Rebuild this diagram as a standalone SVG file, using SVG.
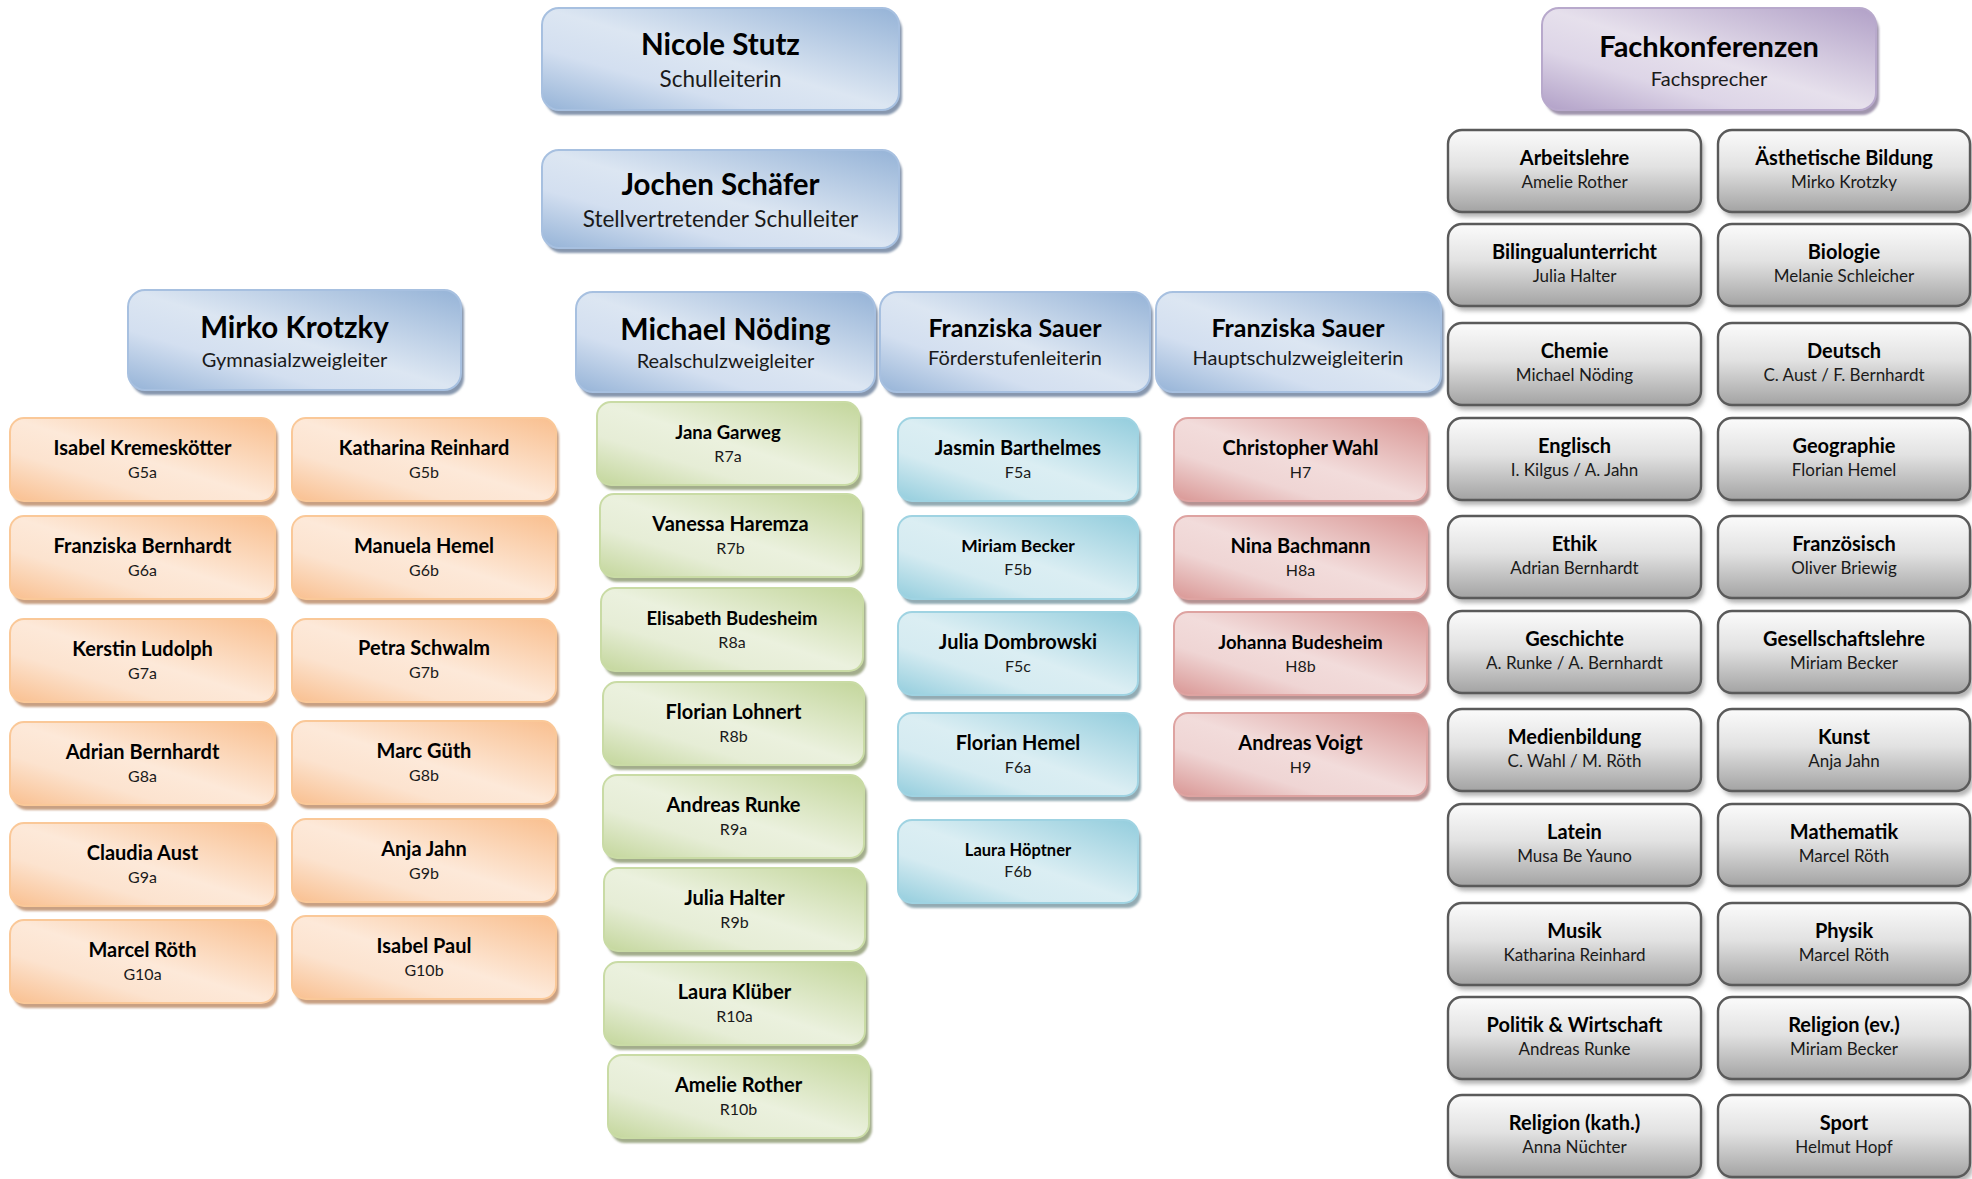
<svg xmlns="http://www.w3.org/2000/svg" width="1972" height="1179" viewBox="0 0 1972 1179">
<defs>
<linearGradient id="gBlue" x1="1" y1="0" x2="0" y2="1"><stop offset="0" stop-color="#95b3d7"/><stop offset="0.5" stop-color="#dce6f2"/><stop offset="0.7" stop-color="#d3dff0"/><stop offset="1" stop-color="#95b3d7"/></linearGradient>
<linearGradient id="gPurple" x1="1" y1="0" x2="0" y2="1"><stop offset="0" stop-color="#b1a0c7"/><stop offset="0.5" stop-color="#e6e0ec"/><stop offset="0.7" stop-color="#ddd5e7"/><stop offset="1" stop-color="#b1a0c7"/></linearGradient>
<linearGradient id="gOrange" x1="1" y1="0" x2="0" y2="1"><stop offset="0" stop-color="#f9bf8f"/><stop offset="0.5" stop-color="#fde9d9"/><stop offset="0.7" stop-color="#fce3cf"/><stop offset="1" stop-color="#f9bf8f"/></linearGradient>
<linearGradient id="gGreen" x1="1" y1="0" x2="0" y2="1"><stop offset="0" stop-color="#c3d69b"/><stop offset="0.5" stop-color="#ebf1de"/><stop offset="0.7" stop-color="#e6edd6"/><stop offset="1" stop-color="#c3d69b"/></linearGradient>
<linearGradient id="gCyan" x1="1" y1="0" x2="0" y2="1"><stop offset="0" stop-color="#93cddd"/><stop offset="0.5" stop-color="#dbeef3"/><stop offset="0.7" stop-color="#d5ebf1"/><stop offset="1" stop-color="#93cddd"/></linearGradient>
<linearGradient id="gRed" x1="1" y1="0" x2="0" y2="1"><stop offset="0" stop-color="#d99694"/><stop offset="0.5" stop-color="#f2dcdb"/><stop offset="0.7" stop-color="#efd5d4"/><stop offset="1" stop-color="#d99694"/></linearGradient>
<linearGradient id="gGray" x1="0" y1="0" x2="0" y2="1"><stop offset="0" stop-color="#fbfbfb"/><stop offset="0.45" stop-color="#e2e2e2"/><stop offset="1" stop-color="#a3a3a3"/></linearGradient>
<filter id="blur" x="-5%" y="-10%" width="110%" height="130%"><feGaussianBlur stdDeviation="1.3"/></filter>
<filter id="blur2" x="-5%" y="-10%" width="110%" height="130%"><feGaussianBlur stdDeviation="2.2"/></filter>
</defs>
<style>
text{font-family:Lato,"Open Sans","Liberation Sans",sans-serif;text-anchor:middle;fill:#000}
.t{font-weight:700;font-size:20px}
.s{font-weight:400;font-size:16px;fill:#1a1a1a}
.h{font-weight:700;font-size:29.5px}
.hs{font-weight:400;font-size:20px;fill:#1a1a1a}
.sh{filter:url(#blur)}
.bx{stroke-width:2}
.blue .bx{fill:url(#gBlue);stroke:#a7c0e0}
.blue .sh{fill:#8797ae}
.purple .bx{fill:url(#gPurple);stroke:#b8a9cc}
.purple .sh{fill:#a095ad}
.orange .bx{fill:url(#gOrange);stroke:#fac898}
.orange .sh{fill:#c8a083}
.green .bx{fill:url(#gGreen);stroke:#c9dba5}
.green .sh{fill:#a3ad8c}
.cyan .bx{fill:url(#gCyan);stroke:#9fd3e2}
.cyan .sh{fill:#93abb3}
.red .bx{fill:url(#gRed);stroke:#dea3a1}
.red .sh{fill:#b59292}
.gray .bx{fill:url(#gGray);stroke:#5a5a5a;stroke-width:2.4}
.gray .sh{fill:#b5b5b5;filter:url(#blur2)}
.gray .s{font-size:17px}
</style>
<rect width="1972" height="1179" fill="#fff"/>
<g id="connectors"/>

<!-- top leadership -->
<g id="n-stutz" class="blue"><rect class="sh" x="545" y="13" width="357" height="102" rx="17"/><rect class="bx" x="542" y="8" width="357" height="102" rx="17"/><text class="h" x="720.5" y="55">Nicole Stutz</text><text class="hs" x="720.5" y="87" style="font-size:22.5px">Schulleiterin</text></g>
<g id="n-schaefer" class="blue"><rect class="sh" x="545" y="155" width="357" height="98" rx="17"/><rect class="bx" x="542" y="150" width="357" height="98" rx="17"/><text class="h" x="720.5" y="195">Jochen Schäfer</text><text class="hs" x="720.5" y="227" style="font-size:22.5px">Stellvertretender Schulleiter</text></g>
<g id="n-fachkonf" class="purple"><rect class="sh" x="1545" y="13" width="334" height="102" rx="17"/><rect class="bx" x="1542" y="8" width="334" height="102" rx="17"/><text class="h" x="1709" y="57" style="font-size:29px">Fachkonferenzen</text><text class="hs" x="1709" y="86">Fachsprecher</text></g>

<!-- branch heads -->
<g id="n-krotzky" class="blue"><rect class="sh" x="131" y="295" width="333" height="100" rx="17"/><rect class="bx" x="128" y="290" width="333" height="100" rx="17"/><text class="h" x="294.5" y="338">Mirko Krotzky</text><text class="hs" x="294.5" y="367">Gymnasialzweigleiter</text></g>
<g id="n-noeding" class="blue"><rect class="sh" x="579" y="297" width="299" height="100" rx="17"/><rect class="bx" x="576" y="292" width="299" height="100" rx="17"/><text class="h" x="725.5" y="340" style="font-size:30px">Michael Nöding</text><text class="hs" x="725.5" y="368">Realschulzweigleiter</text></g>
<g id="n-sauer-f" class="blue"><rect class="sh" x="883" y="297" width="270" height="100" rx="17"/><rect class="bx" x="880" y="292" width="270" height="100" rx="17"/><text class="h" x="1015" y="337" style="font-size:25px">Franziska Sauer</text><text class="hs" x="1015" y="365">Förderstufenleiterin</text></g>
<g id="n-sauer-h" class="blue"><rect class="sh" x="1159" y="297" width="285" height="100" rx="17"/><rect class="bx" x="1156" y="292" width="285" height="100" rx="17"/><text class="h" x="1298" y="337" style="font-size:25px">Franziska Sauer</text><text class="hs" x="1298" y="365">Hauptschulzweigleiterin</text></g>

<!-- Gymnasium (orange) -->
<g id="n-g5a" class="orange"><rect class="sh" x="13" y="423" width="265" height="83" rx="14"/><rect class="bx" x="10" y="418" width="265" height="83" rx="14"/><text class="t" x="142.5" y="455">Isabel Kremeskötter</text><text class="s" x="142.5" y="478">G5a</text></g>
<g id="n-g5b" class="orange"><rect class="sh" x="295" y="423" width="264" height="83" rx="14"/><rect class="bx" x="292" y="418" width="264" height="83" rx="14"/><text class="t" x="424" y="455">Katharina Reinhard</text><text class="s" x="424" y="478">G5b</text></g>
<g id="n-g6a" class="orange"><rect class="sh" x="13" y="521" width="265" height="83" rx="14"/><rect class="bx" x="10" y="516" width="265" height="83" rx="14"/><text class="t" x="142.5" y="553">Franziska Bernhardt</text><text class="s" x="142.5" y="576">G6a</text></g>
<g id="n-g6b" class="orange"><rect class="sh" x="295" y="521" width="264" height="83" rx="14"/><rect class="bx" x="292" y="516" width="264" height="83" rx="14"/><text class="t" x="424" y="553">Manuela Hemel</text><text class="s" x="424" y="576">G6b</text></g>
<g id="n-g7a" class="orange"><rect class="sh" x="13" y="624" width="265" height="83" rx="14"/><rect class="bx" x="10" y="619" width="265" height="83" rx="14"/><text class="t" x="142.5" y="656">Kerstin Ludolph</text><text class="s" x="142.5" y="679">G7a</text></g>
<g id="n-g7b" class="orange"><rect class="sh" x="295" y="624" width="264" height="83" rx="14"/><rect class="bx" x="292" y="619" width="264" height="83" rx="14"/><text class="t" x="424" y="655">Petra Schwalm</text><text class="s" x="424" y="678">G7b</text></g>
<g id="n-g8a" class="orange"><rect class="sh" x="13" y="727" width="265" height="83" rx="14"/><rect class="bx" x="10" y="722" width="265" height="83" rx="14"/><text class="t" x="142.5" y="759">Adrian Bernhardt</text><text class="s" x="142.5" y="782">G8a</text></g>
<g id="n-g8b" class="orange"><rect class="sh" x="295" y="726" width="264" height="83" rx="14"/><rect class="bx" x="292" y="721" width="264" height="83" rx="14"/><text class="t" x="424" y="758">Marc Güth</text><text class="s" x="424" y="781">G8b</text></g>
<g id="n-g9a" class="orange"><rect class="sh" x="13" y="828" width="265" height="83" rx="14"/><rect class="bx" x="10" y="823" width="265" height="83" rx="14"/><text class="t" x="142.5" y="860">Claudia Aust</text><text class="s" x="142.5" y="883">G9a</text></g>
<g id="n-g9b" class="orange"><rect class="sh" x="295" y="824" width="264" height="83" rx="14"/><rect class="bx" x="292" y="819" width="264" height="83" rx="14"/><text class="t" x="424" y="856">Anja Jahn</text><text class="s" x="424" y="879">G9b</text></g>
<g id="n-g10a" class="orange"><rect class="sh" x="13" y="925" width="265" height="83" rx="14"/><rect class="bx" x="10" y="920" width="265" height="83" rx="14"/><text class="t" x="142.5" y="957">Marcel Röth</text><text class="s" x="142.5" y="980">G10a</text></g>
<g id="n-g10b" class="orange"><rect class="sh" x="295" y="921" width="264" height="83" rx="14"/><rect class="bx" x="292" y="916" width="264" height="83" rx="14"/><text class="t" x="424" y="953">Isabel Paul</text><text class="s" x="424" y="976">G10b</text></g>

<!-- Realschule (green) -->
<g id="n-r7a" class="green"><rect class="sh" x="600" y="407" width="262" height="83" rx="14"/><rect class="bx" x="597" y="402" width="262" height="83" rx="14"/><text class="t" x="728" y="439" style="font-size:18.5px">Jana Garweg</text><text class="s" x="728" y="462">R7a</text></g>
<g id="n-r7b" class="green"><rect class="sh" x="603" y="499" width="261" height="83" rx="14"/><rect class="bx" x="600" y="494" width="261" height="83" rx="14"/><text class="t" x="730.5" y="531">Vanessa Haremza</text><text class="s" x="730.5" y="554">R7b</text></g>
<g id="n-r8a" class="green"><rect class="sh" x="604" y="593" width="262" height="83" rx="14"/><rect class="bx" x="601" y="588" width="262" height="83" rx="14"/><text class="t" x="732" y="625" style="font-size:18.5px">Elisabeth Budesheim</text><text class="s" x="732" y="648">R8a</text></g>
<g id="n-r8b" class="green"><rect class="sh" x="606" y="687" width="261" height="83" rx="14"/><rect class="bx" x="603" y="682" width="261" height="83" rx="14"/><text class="t" x="733.5" y="719">Florian Lohnert</text><text class="s" x="733.5" y="742">R8b</text></g>
<g id="n-r9a" class="green"><rect class="sh" x="606" y="780" width="261" height="83" rx="14"/><rect class="bx" x="603" y="775" width="261" height="83" rx="14"/><text class="t" x="733.5" y="812">Andreas Runke</text><text class="s" x="733.5" y="835">R9a</text></g>
<g id="n-r9b" class="green"><rect class="sh" x="607" y="873" width="261" height="83" rx="14"/><rect class="bx" x="604" y="868" width="261" height="83" rx="14"/><text class="t" x="734.5" y="905">Julia Halter</text><text class="s" x="734.5" y="928">R9b</text></g>
<g id="n-r10a" class="green"><rect class="sh" x="607" y="967" width="261" height="83" rx="14"/><rect class="bx" x="604" y="962" width="261" height="83" rx="14"/><text class="t" x="734.5" y="999">Laura Klüber</text><text class="s" x="734.5" y="1022">R10a</text></g>
<g id="n-r10b" class="green"><rect class="sh" x="611" y="1060" width="261" height="83" rx="14"/><rect class="bx" x="608" y="1055" width="261" height="83" rx="14"/><text class="t" x="738.5" y="1092">Amelie Rother</text><text class="s" x="738.5" y="1115">R10b</text></g>

<!-- Förderstufe (cyan) -->
<g id="n-f5a" class="cyan"><rect class="sh" x="901" y="423" width="240" height="83" rx="14"/><rect class="bx" x="898" y="418" width="240" height="83" rx="14"/><text class="t" x="1018" y="455">Jasmin Barthelmes</text><text class="s" x="1018" y="478">F5a</text></g>
<g id="n-f5b" class="cyan"><rect class="sh" x="901" y="521" width="240" height="83" rx="14"/><rect class="bx" x="898" y="516" width="240" height="83" rx="14"/><text class="t" x="1018" y="552" style="font-size:17.5px">Miriam Becker</text><text class="s" x="1018" y="575">F5b</text></g>
<g id="n-f5c" class="cyan"><rect class="sh" x="901" y="617" width="240" height="83" rx="14"/><rect class="bx" x="898" y="612" width="240" height="83" rx="14"/><text class="t" x="1018" y="649">Julia Dombrowski</text><text class="s" x="1018" y="672">F5c</text></g>
<g id="n-f6a" class="cyan"><rect class="sh" x="901" y="718" width="240" height="83" rx="14"/><rect class="bx" x="898" y="713" width="240" height="83" rx="14"/><text class="t" x="1018" y="750">Florian Hemel</text><text class="s" x="1018" y="773">F6a</text></g>
<g id="n-f6b" class="cyan"><rect class="sh" x="901" y="825" width="240" height="83" rx="14"/><rect class="bx" x="898" y="820" width="240" height="83" rx="14"/><text class="t" x="1018" y="856" style="font-size:16.5px">Laura Höptner</text><text class="s" x="1018" y="877">F6b</text></g>

<!-- Hauptschule (red) -->
<g id="n-h7" class="red"><rect class="sh" x="1177" y="423" width="253" height="83" rx="14"/><rect class="bx" x="1174" y="418" width="253" height="83" rx="14"/><text class="t" x="1300.5" y="455">Christopher Wahl</text><text class="s" x="1300.5" y="478">H7</text></g>
<g id="n-h8a" class="red"><rect class="sh" x="1177" y="521" width="253" height="83" rx="14"/><rect class="bx" x="1174" y="516" width="253" height="83" rx="14"/><text class="t" x="1300.5" y="553">Nina Bachmann</text><text class="s" x="1300.5" y="576">H8a</text></g>
<g id="n-h8b" class="red"><rect class="sh" x="1177" y="617" width="253" height="83" rx="14"/><rect class="bx" x="1174" y="612" width="253" height="83" rx="14"/><text class="t" x="1300.5" y="649" style="font-size:18.5px">Johanna Budesheim</text><text class="s" x="1300.5" y="672">H8b</text></g>
<g id="n-h9" class="red"><rect class="sh" x="1177" y="718" width="253" height="83" rx="14"/><rect class="bx" x="1174" y="713" width="253" height="83" rx="14"/><text class="t" x="1300.5" y="750">Andreas Voigt</text><text class="s" x="1300.5" y="773">H9</text></g>

<!-- Fachkonferenzen (gray) -->
<g id="n-arbeitslehre" class="gray"><rect class="sh" x="1451" y="135" width="253" height="82" rx="14"/><rect class="bx" x="1448" y="130" width="253" height="82" rx="14"/><text class="t" x="1574.5" y="165">Arbeitslehre</text><text class="s" x="1574.5" y="188">Amelie Rother</text></g>
<g id="n-aesthetik" class="gray"><rect class="sh" x="1721" y="135" width="252" height="82" rx="14"/><rect class="bx" x="1718" y="130" width="252" height="82" rx="14"/><text class="t" x="1844" y="165">Ästhetische Bildung</text><text class="s" x="1844" y="188">Mirko Krotzky</text></g>
<g id="n-bilingual" class="gray"><rect class="sh" x="1451" y="229" width="253" height="82" rx="14"/><rect class="bx" x="1448" y="224" width="253" height="82" rx="14"/><text class="t" x="1574.5" y="259">Bilingualunterricht</text><text class="s" x="1574.5" y="282">Julia Halter</text></g>
<g id="n-biologie" class="gray"><rect class="sh" x="1721" y="229" width="252" height="82" rx="14"/><rect class="bx" x="1718" y="224" width="252" height="82" rx="14"/><text class="t" x="1844" y="259">Biologie</text><text class="s" x="1844" y="282">Melanie Schleicher</text></g>
<g id="n-chemie" class="gray"><rect class="sh" x="1451" y="328" width="253" height="82" rx="14"/><rect class="bx" x="1448" y="323" width="253" height="82" rx="14"/><text class="t" x="1574.5" y="358">Chemie</text><text class="s" x="1574.5" y="381">Michael Nöding</text></g>
<g id="n-deutsch" class="gray"><rect class="sh" x="1721" y="328" width="252" height="82" rx="14"/><rect class="bx" x="1718" y="323" width="252" height="82" rx="14"/><text class="t" x="1844" y="358">Deutsch</text><text class="s" x="1844" y="381">C. Aust / F. Bernhardt</text></g>
<g id="n-englisch" class="gray"><rect class="sh" x="1451" y="423" width="253" height="82" rx="14"/><rect class="bx" x="1448" y="418" width="253" height="82" rx="14"/><text class="t" x="1574.5" y="453">Englisch</text><text class="s" x="1574.5" y="476">I. Kilgus / A. Jahn</text></g>
<g id="n-geographie" class="gray"><rect class="sh" x="1721" y="423" width="252" height="82" rx="14"/><rect class="bx" x="1718" y="418" width="252" height="82" rx="14"/><text class="t" x="1844" y="453">Geographie</text><text class="s" x="1844" y="476">Florian Hemel</text></g>
<g id="n-ethik" class="gray"><rect class="sh" x="1451" y="521" width="253" height="82" rx="14"/><rect class="bx" x="1448" y="516" width="253" height="82" rx="14"/><text class="t" x="1574.5" y="551">Ethik</text><text class="s" x="1574.5" y="574">Adrian Bernhardt</text></g>
<g id="n-franzoesisch" class="gray"><rect class="sh" x="1721" y="521" width="252" height="82" rx="14"/><rect class="bx" x="1718" y="516" width="252" height="82" rx="14"/><text class="t" x="1844" y="551">Französisch</text><text class="s" x="1844" y="574">Oliver Briewig</text></g>
<g id="n-geschichte" class="gray"><rect class="sh" x="1451" y="616" width="253" height="82" rx="14"/><rect class="bx" x="1448" y="611" width="253" height="82" rx="14"/><text class="t" x="1574.5" y="646">Geschichte</text><text class="s" x="1574.5" y="669">A. Runke / A. Bernhardt</text></g>
<g id="n-gesellschaft" class="gray"><rect class="sh" x="1721" y="616" width="252" height="82" rx="14"/><rect class="bx" x="1718" y="611" width="252" height="82" rx="14"/><text class="t" x="1844" y="646">Gesellschaftslehre</text><text class="s" x="1844" y="669">Miriam Becker</text></g>
<g id="n-medien" class="gray"><rect class="sh" x="1451" y="714" width="253" height="82" rx="14"/><rect class="bx" x="1448" y="709" width="253" height="82" rx="14"/><text class="t" x="1574.5" y="744">Medienbildung</text><text class="s" x="1574.5" y="767">C. Wahl / M. Röth</text></g>
<g id="n-kunst" class="gray"><rect class="sh" x="1721" y="714" width="252" height="82" rx="14"/><rect class="bx" x="1718" y="709" width="252" height="82" rx="14"/><text class="t" x="1844" y="744">Kunst</text><text class="s" x="1844" y="767">Anja Jahn</text></g>
<g id="n-latein" class="gray"><rect class="sh" x="1451" y="809" width="253" height="82" rx="14"/><rect class="bx" x="1448" y="804" width="253" height="82" rx="14"/><text class="t" x="1574.5" y="839">Latein</text><text class="s" x="1574.5" y="862">Musa Be Yauno</text></g>
<g id="n-mathe" class="gray"><rect class="sh" x="1721" y="809" width="252" height="82" rx="14"/><rect class="bx" x="1718" y="804" width="252" height="82" rx="14"/><text class="t" x="1844" y="839">Mathematik</text><text class="s" x="1844" y="862">Marcel Röth</text></g>
<g id="n-musik" class="gray"><rect class="sh" x="1451" y="908" width="253" height="82" rx="14"/><rect class="bx" x="1448" y="903" width="253" height="82" rx="14"/><text class="t" x="1574.5" y="938">Musik</text><text class="s" x="1574.5" y="961">Katharina Reinhard</text></g>
<g id="n-physik" class="gray"><rect class="sh" x="1721" y="908" width="252" height="82" rx="14"/><rect class="bx" x="1718" y="903" width="252" height="82" rx="14"/><text class="t" x="1844" y="938">Physik</text><text class="s" x="1844" y="961">Marcel Röth</text></g>
<g id="n-powi" class="gray"><rect class="sh" x="1451" y="1002" width="253" height="82" rx="14"/><rect class="bx" x="1448" y="997" width="253" height="82" rx="14"/><text class="t" x="1574.5" y="1032">Politik &amp; Wirtschaft</text><text class="s" x="1574.5" y="1055">Andreas Runke</text></g>
<g id="n-rel-ev" class="gray"><rect class="sh" x="1721" y="1002" width="252" height="82" rx="14"/><rect class="bx" x="1718" y="997" width="252" height="82" rx="14"/><text class="t" x="1844" y="1032">Religion (ev.)</text><text class="s" x="1844" y="1055">Miriam Becker</text></g>
<g id="n-rel-kath" class="gray"><rect class="sh" x="1451" y="1100" width="253" height="82" rx="14"/><rect class="bx" x="1448" y="1095" width="253" height="82" rx="14"/><text class="t" x="1574.5" y="1130">Religion (kath.)</text><text class="s" x="1574.5" y="1153">Anna Nüchter</text></g>
<g id="n-sport" class="gray"><rect class="sh" x="1721" y="1100" width="252" height="82" rx="14"/><rect class="bx" x="1718" y="1095" width="252" height="82" rx="14"/><text class="t" x="1844" y="1130">Sport</text><text class="s" x="1844" y="1153">Helmut Hopf</text></g>
</svg>
